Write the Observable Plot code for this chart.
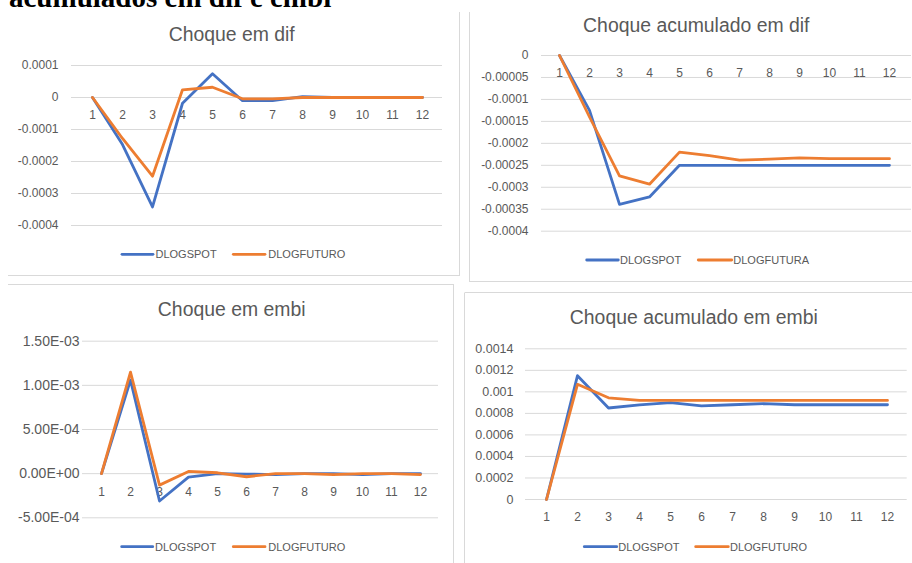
<!DOCTYPE html>
<html><head><meta charset="utf-8">
<script src="https://cdn.jsdelivr.net/npm/d3@7"></script>
<script src="https://cdn.jsdelivr.net/npm/@observablehq/plot@0.6"></script>
<style>
html,body{margin:0;padding:0;background:#fff;}
#root{position:relative;width:912px;height:563px;overflow:hidden;background:#fff;font-family:"Liberation Sans",Arial,sans-serif;}
.pw{position:absolute;}
.pw svg{max-width:none !important;display:block;}
#overlay{position:absolute;left:0;top:0;pointer-events:none;z-index:2;}
</style></head>
<body><div id="root"></div>
<script>
// ---- data ----
const periods = [1, 2, 3, 4, 5, 6, 7, 8, 9, 10, 11, 12];

// Choque em dif
const difSpot   = [0, -0.000147, -0.000342, -0.000018, 0.000074, -0.000010, -0.000010, 0.000003, 0, 0, 0, 0];
const difFuturo = [0, -0.000128, -0.000246, 0.000024, 0.000032, -0.000004, -0.000004, 0, 0, 0, 0, 0];
const difTicks  = [0.0001, 0, -0.0001, -0.0002, -0.0003, -0.0004];
const difLabels = ["0.0001", "0", "-0.0001", "-0.0002", "-0.0003", "-0.0004"];

// Choque acumulado em dif
const accDifSpot   = [0, -0.000125, -0.000339, -0.000322, -0.000250, -0.000250, -0.000250, -0.000250, -0.000250, -0.000250, -0.000250, -0.000250];
const accDifFutura = [0, -0.000140, -0.000274, -0.000293, -0.000220, -0.000228, -0.000238, -0.000236, -0.000233, -0.000235, -0.000235, -0.000235];
const accDifTicks  = [0, -0.00005, -0.0001, -0.00015, -0.0002, -0.00025, -0.0003, -0.00035, -0.0004];
const accDifLabels = ["0", "-0.00005", "-0.0001", "-0.00015", "-0.0002", "-0.00025", "-0.0003", "-0.00035", "-0.0004"];

// Choque em embi
const embiSpot   = [0, 0.00106, -0.00031, -0.00004, 0, -0.000005, -0.00001, 0, 0, -0.00001, 0, 0];
const embiFuturo = [0, 0.00115, -0.00013, 0.000025, 0.00001, -0.000035, 0, 0, -0.00001, 0, 0, -0.00001];
const embiTicks  = [0.0015, 0.001, 0.0005, 0, -0.0005];
const embiLabels = ["1.50E-03", "1.00E-03", "5.00E-04", "0.00E+00", "-5.00E-04"];

// Choque acumulado em embi
const accEmbiSpot   = [0, 0.00115, 0.00085, 0.00088, 0.00090, 0.00087, 0.00088, 0.00089, 0.00088, 0.00088, 0.00088, 0.00088];
const accEmbiFuturo = [0, 0.00107, 0.000945, 0.00092, 0.00092, 0.00092, 0.00092, 0.00092, 0.00092, 0.00092, 0.00092, 0.00092];
const accEmbiTicks  = [0.0014, 0.0012, 0.001, 0.0008, 0.0006, 0.0004, 0.0002, 0];
const accEmbiLabels = ["0.0014", "0.0012", "0.001", "0.0008", "0.0006", "0.0004", "0.0002", "0"];

const BLUE = "#4472C4", ORANGE = "#ED7D31", GRID = "#d9d9d9", TXT = "#595959";
const FONT = '"Liberation Sans", Arial, sans-serif';

const root = document.getElementById("root");

function panel(o) {
  const data = [];
  o.names.forEach((n, i) => o.series[i].forEach((v, j) => data.push({period: periods[j], value: v, series: n})));
  const fmt = new Map(o.yTicks.map((t, i) => [t, o.yLabels[i]]));
  const chart = Plot.plot({
    width: o.width, height: o.height,
    marginLeft: o.mL, marginRight: o.mR, marginTop: o.mT, marginBottom: o.mB,
    style: {background: "transparent", fontFamily: FONT, color: TXT, overflow: "visible"},
    x: {type: "point", domain: periods, range: o.xRange, padding: 0, axis: null},
    y: {domain: o.yDomain, label: null},
    color: {domain: o.names, range: [BLUE, ORANGE]},
    marks: [
      Plot.gridY(o.yTicks, {stroke: GRID, strokeOpacity: 1, strokeWidth: 1}),
      Plot.axisY(o.yTicks, {tickSize: 0, tickPadding: o.pad, tickFormat: d => fmt.get(d), fontSize: o.yFont, fill: TXT, label: null}),
      Plot.text(periods, {x: d => d, y: 0, dy: o.xdy, text: d => String(d), fontSize: 12, fill: TXT}),
      Plot.line(data, {x: "period", y: "value", z: "series", stroke: "series", strokeWidth: 2.8, strokeLinejoin: "round", strokeLinecap: "round"})
    ]
  });
  const w = document.createElement("div");
  w.className = "pw";
  w.style.left = o.left + "px"; w.style.top = o.top + "px";
  w.style.width = o.width + "px"; w.style.height = o.height + "px";
  w.appendChild(chart);
  root.appendChild(w);
}

panel({left: 0, top: 0, width: 460, height: 280, mL: 71, mR: 18, mT: 65, mB: 55,
  xRange: [87, 427], yDomain: [-0.0004, 0.0001], yTicks: difTicks, yLabels: difLabels,
  pad: 13, yFont: 12, xdy: 17.2, names: ["DLOGSPOT", "DLOGFUTURO"], series: [difSpot, difFuturo]});

panel({left: 460, top: 0, width: 452, height: 285, mL: 81, mR: 1, mT: 55, mB: 54.3,
  xRange: [96.5, 432], yDomain: [-0.0004, 0], yTicks: accDifTicks, yLabels: accDifLabels,
  pad: 13, yFont: 12, xdy: 17.8, names: ["DLOGSPOT", "DLOGFUTURA"], series: [accDifSpot, accDifFutura]});

panel({left: 0, top: 284, width: 460, height: 279, mL: 82, mR: 22, mT: 56.7, mB: 45.7,
  xRange: [98.3, 423.3], yDomain: [-0.0005, 0.0015], yTicks: embiTicks, yLabels: embiLabels,
  pad: 3, yFont: 14, xdy: 18.7, names: ["DLOGSPOT", "DLOGFUTURO"], series: [embiSpot, embiFuturo]});

panel({left: 460, top: 290, width: 452, height: 273, mL: 65, mR: 5.3, mT: 58.3, mB: 64,
  xRange: [81.7, 431.7], yDomain: [0, 0.0014], yTicks: accEmbiTicks, yLabels: accEmbiLabels,
  pad: 12, yFont: 12.5, xdy: 17.7, names: ["DLOGSPOT", "DLOGFUTURO"], series: [accEmbiSpot, accEmbiFuturo]});

// ---- overlay: heading, panel titles, legends, panel borders ----
const svg = d3.select(root).append("svg").attr("id", "overlay").attr("width", 912).attr("height", 563);

const borders = [
  [459.5, 12, 459.5, 276], [8, 275.5, 459.5, 275.5],
  [469.5, 12, 469.5, 282], [469.5, 281.5, 912, 281.5],
  [8, 284.5, 454, 284.5], [453.5, 284.5, 453.5, 563],
  [465, 292.5, 912, 292.5], [464.5, 292.5, 464.5, 563]
];
svg.selectAll("line.b").data(borders).join("line").attr("class", "b")
  .attr("x1", d => d[0]).attr("y1", d => d[1]).attr("x2", d => d[2]).attr("y2", d => d[3])
  .attr("stroke", GRID).attr("stroke-width", 1);

svg.append("text").attr("x", 9).attr("y", 6.5)
  .attr("font-family", '"Liberation Serif", "Times New Roman", serif').attr("font-weight", "bold")
  .attr("font-size", 29).attr("fill", "#000").text("acumulados em dif e embi");

const titles = [
  ["Choque em dif", 231.7, 40.5],
  ["Choque acumulado em dif", 696.3, 31.7],
  ["Choque em embi", 231.7, 316],
  ["Choque acumulado em embi", 693.8, 324.3]
];
svg.selectAll("text.t").data(titles).join("text").attr("class", "t")
  .attr("x", d => d[1]).attr("y", d => d[2]).attr("text-anchor", "middle")
  .attr("font-family", FONT).attr("font-size", 19.4).attr("fill", TXT).text(d => d[0]);

const legends = [
  {y: 254.3, items: [["DLOGSPOT", BLUE, 122, 153, 155.5], ["DLOGFUTURO", ORANGE, 233.3, 265, 268.3]]},
  {y: 260, items: [["DLOGSPOT", BLUE, 586.7, 618.3, 620], ["DLOGFUTURA", ORANGE, 698.3, 731.7, 733.3]]},
  {y: 546.7, items: [["DLOGSPOT", BLUE, 121.7, 152.7, 155], ["DLOGFUTURO", ORANGE, 233.3, 265, 268.3]]},
  {y: 546.7, items: [["DLOGSPOT", BLUE, 584.3, 616.7, 618.3], ["DLOGFUTURO", ORANGE, 695.7, 728.3, 730]]}
];
legends.forEach(lg => {
  lg.items.forEach(([name, col, x1, x2, tx]) => {
    svg.append("line").attr("x1", x1).attr("x2", x2).attr("y1", lg.y).attr("y2", lg.y)
      .attr("stroke", col).attr("stroke-width", 2.8).attr("stroke-linecap", "round");
    svg.append("text").attr("x", tx).attr("y", lg.y + 4).attr("font-family", FONT)
      .attr("font-size", 11).attr("fill", TXT).text(name);
  });
});
</script>
</body></html>
